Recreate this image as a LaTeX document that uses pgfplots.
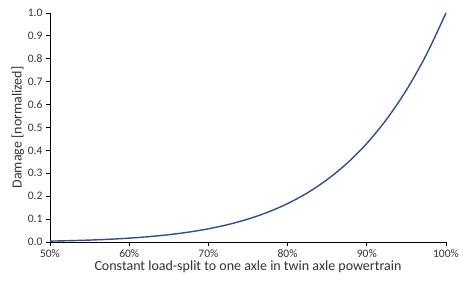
\documentclass[border=0pt]{standalone}
\usepackage{fontspec}
\setmainfont{Carlito}
\usepackage{pgfplots}
\pgfplotsset{compat=1.18}
\definecolor{curve}{HTML}{2F4F8F}
\begin{document}
\begin{tikzpicture}
\path[use as bounding box] (0,0) rectangle (474pt,284pt);
\begin{axis}[
  at={(50pt,42pt)}, anchor=south west,
  scale only axis, width=396pt, height=229pt,
  xmin=50, xmax=100, ymin=0, ymax=1,
  axis x line*=bottom, axis y line*=left,
  axis line style={black, line width=0.8pt, -},
  xtick={50,60,...,100}, ytick={0,0.1,...,1.0},
  xticklabel={\pgfmathprintnumber{\tick}\%},
  yticklabel style={/pgf/number format/.cd, fixed, fixed zerofill, precision=1},
  /pgf/number format/assume math mode=true,
  tick align=outside, major tick length=4pt,
  tick style={black, line width=0.8pt},
  ticklabel style={font=\fontsize{11.5}{13}\selectfont, text=black!80},
  xlabel={Constant load-split to one axle in twin axle powertrain},
  ylabel={Damage [normalized]},
  label style={font=\fontsize{14}{16}\selectfont, text=black!80},
  xlabel style={yshift=4pt},
  ylabel style={yshift=-3pt},
  clip=false,
]
\addplot[curve, line width=1.4pt, smooth] coordinates {
(50,0.0039063) (52.5,0.0057713) (55,0.0083734) (57.5,0.0119494) (60,0.0167962)
(62.5,0.0232831) (65,0.0318645) (67.5,0.0430953) (70,0.0576480) (72.5,0.0763317)
(75,0.1001129) (77.5,0.130141) (80,0.1677722) (82.5,0.214601) (85,0.272491)
(87.5,0.343609) (90,0.4304672) (92.5,0.535962) (95,0.663420) (97.5,0.816652) (100,1.0)
};
\end{axis}
\end{tikzpicture}
\end{document}
